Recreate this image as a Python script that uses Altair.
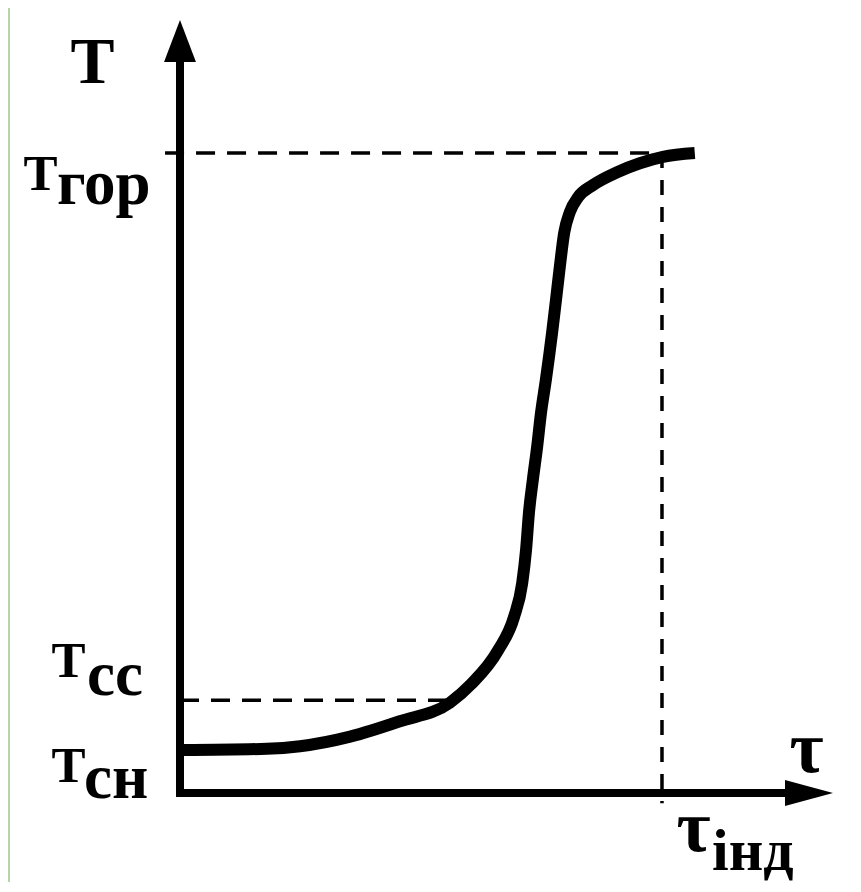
import altair as alt
import pandas as pd

# ---- data (abstract units: tau_ind = 10, T_gor = 10, x-axis at T = 0) ----
curve_tau = [0.04, 1.80, 2.49, 3.53, 4.56, 5.60, 6.04, 6.60, 6.93, 7.10, 7.18, 7.24, 7.32, 7.41,
             7.49, 7.59, 7.72, 7.80, 7.88, 7.97, 8.09, 8.26, 8.57, 9.07, 9.54, 10.02, 10.68]
curve_T = [0.67, 0.69, 0.73, 0.88, 1.12, 1.41, 1.70, 2.23, 2.75, 3.28, 3.80, 4.38, 4.89, 5.41,
           5.94, 6.45, 7.19, 7.70, 8.22, 8.75, 9.08, 9.31, 9.50, 9.70, 9.84, 9.94, 10.00]

T_gor = 10.0
T_cc = 1.45
T_axis = 0.0
tau_ind = 10.0
tau_cc = 5.60

# axis extents and arrow centres
y_axis_range = [-0.06, 11.61]
x_axis_range = [-0.08, 12.66]
y_arrow = [0.0, 11.75]
x_arrow = [13.05, 0.0]

X_DOMAIN = [-3.527, 13.963]
Y_DOMAIN = [-1.391, 12.266]

xs = alt.Scale(domain=X_DOMAIN, nice=False, zero=False)
ys = alt.Scale(domain=Y_DOMAIN, nice=False, zero=False)


def X(f="x"):
    return alt.X(f"{f}:Q", scale=xs, axis=None)


def Y(f="y"):
    return alt.Y(f"{f}:Q", scale=ys, axis=None)


curve_df = pd.DataFrame({"x": curve_tau, "y": curve_T, "i": range(len(curve_tau))})
curve = alt.Chart(curve_df).mark_line(
    color="black", strokeWidth=12, interpolate="monotone", strokeCap="butt"
).encode(x=X(), y=Y(), order="i:Q")

# axes
yaxis = alt.Chart(pd.DataFrame({"x": [0.0], "y": [y_axis_range[0]], "y2": [y_axis_range[1]]})).mark_rule(
    color="black", strokeWidth=8
).encode(x=X(), y=Y(), y2="y2:Q")
xaxis = alt.Chart(pd.DataFrame({"x": [x_axis_range[0]], "x2": [x_axis_range[1]], "y": [T_axis]})).mark_rule(
    color="black", strokeWidth=8
).encode(x=X(), x2="x2:Q", y=Y())

yarrow = alt.Chart(pd.DataFrame({"x": [y_arrow[0]], "y": [y_arrow[1]]})).mark_point(
    shape="M0,-1L-0.76,1L0.76,1Z", size=1764, filled=True, color="black", opacity=1, strokeWidth=0
).encode(x=X(), y=Y())
xarrow = alt.Chart(pd.DataFrame({"x": [x_arrow[0]], "y": [x_arrow[1]]})).mark_point(
    shape="M1,0L-1,-0.54L-1,0.54Z", size=2304, filled=True, color="black", opacity=1, strokeWidth=0
).encode(x=X(), y=Y())

# dashed guide lines
dash_gor = alt.Chart(pd.DataFrame({"x": [-0.31], "x2": [tau_ind], "y": [T_gor]})).mark_rule(
    color="black", strokeWidth=3.5, strokeDash=[19, 12]
).encode(x=X(), x2="x2:Q", y=Y())
dash_cc = alt.Chart(pd.DataFrame({"x": [0.0], "x2": [tau_cc], "y": [T_cc]})).mark_rule(
    color="black", strokeWidth=3.5, strokeDash=[19, 12]
).encode(x=X(), x2="x2:Q", y=Y())
dash_ind = alt.Chart(pd.DataFrame({"x": [tau_ind], "y": [T_gor], "y2": [-0.16]})).mark_rule(
    color="black", strokeWidth=3.5, strokeDash=[15, 12]
).encode(x=X(), y=Y(), y2="y2:Q")


def label(text, ax, ay, size, align, dx, dy):
    return alt.Chart(pd.DataFrame({"x": [ax], "y": [ay], "t": [text]})).mark_text(
        font="Liberation Serif", fontWeight="bold", fontSize=size, align=align,
        baseline="alphabetic", dx=dx, dy=dy, color="black"
    ).encode(x=X(), y=Y(), text="t:N")


labels = [
    label("T", 0.0, y_arrow[1], 66, "center", -87.5, 42),
    label("T", 0.0, T_gor, 51, "center", -139.5, 37),
    label("гор", 0.0, T_gor, 63, "left", -123, 51),
    label("T", 0.0, T_cc, 51, "center", -111.5, -23),
    label("сс", 0.0, T_cc, 63, "left", -93, -5),
    label("T", 0.0, T_axis, 51, "center", -111.5, -11),
    label("сн", 0.0, T_axis, 63, "left", -96, 5),
    label("τ", x_arrow[0], T_axis, 74, "center", -2.5, -21),
    label("τ", tau_ind, T_axis, 74, "center", 31.5, 58),
    label("інд", tau_ind, T_axis, 60, "left", 50, 77),
]

chart = alt.layer(
    dash_gor, dash_cc, dash_ind, yaxis, xaxis, yarrow, xarrow, curve, *labels
).properties(
    width=843, height=874,
    autosize=alt.AutoSizeParams(type="none"),
    padding={"left": 2, "top": 0, "right": 0, "bottom": 0},
    background="#b6d6a9",
).configure_view(strokeWidth=0, fill="white")

chart.save("out.html", embed_options={"renderer": "svg", "actions": False})
